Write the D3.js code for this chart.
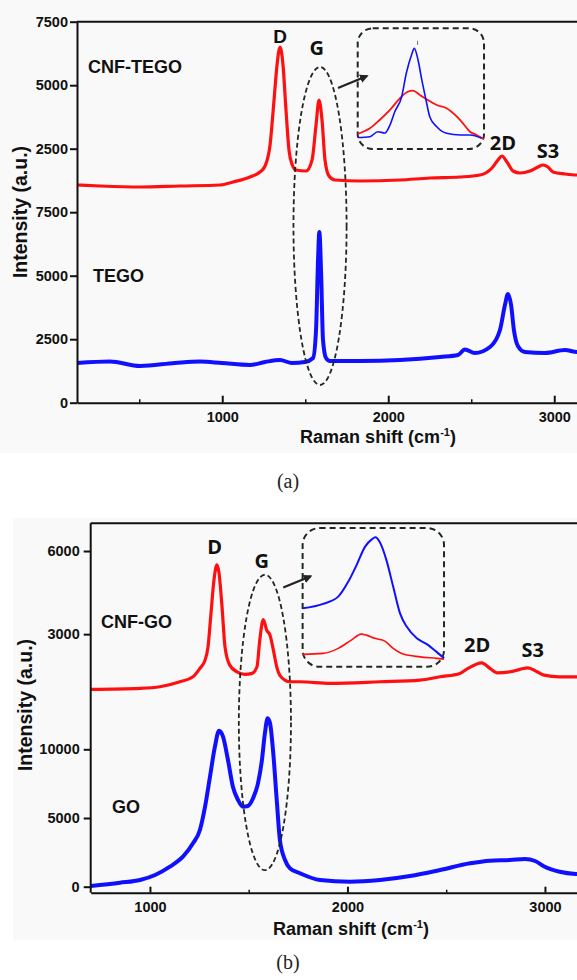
<!DOCTYPE html>
<html><head><meta charset="utf-8">
<script src="https://cdn.jsdelivr.net/npm/d3@7"></script>
<style>body{margin:0;background:#fff;} svg{display:block;}</style>
</head><body>
<svg id="c" width="577" height="980"></svg>
<script>
// ---------------- DATA ----------------
// Panel (a)
const tegoShift = [125,324,505,715,866,998,1167,1258,1348,1420,1498,1547,1565,1577,1585,1595,1607,1625,1649,1830,2071,2312,2420,2462,2522,2613,2673,2703,2721,2740,2757,2781,2823,2944,3065,3137,3200];
const tegoIntensity = [1563,1622,1445,1563,1622,1563,1484,1602,1681,1563,1602,1760,2862,5618,6720,5224,2469,1760,1642,1642,1681,1799,1878,2094,1957,2193,2862,3846,4280,3846,2862,2232,1996,1957,2075,1996,2000];
const cnfTegoShift = [125,264,505,745,986,1065,1167,1227,1258,1288,1312,1330,1348,1366,1384,1402,1420,1444,1505,1541,1565,1583,1601,1619,1643,1679,1830,2071,2252,2432,2553,2625,2661,2685,2715,2752,2793,2854,2902,2932,2962,2992,3065,3137,3200];
const cnfTegoIntensity = [1071,1031,992,1031,1071,1189,1386,1583,1819,2646,4417,5795,6504,5795,4024,2449,1898,1661,1622,2055,3433,4417,3630,2055,1425,1268,1228,1268,1346,1386,1465,1740,2055,2213,1976,1622,1543,1622,1780,1858,1780,1583,1504,1465,1465];
const cnfTegoOffset = 7500;
const yTicksA = [0,2500,5000,7500,10000,12500,15000];
const yTickLabelsA = ["0","2500","5000","7500","2500","5000","7500"];
const xMajorA = [1000,2000,3000];
const xMinorA = [500,1500,2500];
// inset (a): G band zoom (normalised)
const insetATegoShift = [1450,1476,1493,1508,1519,1529,1544,1554,1565,1571,1579,1587,1596,1604,1619,1640,1669,1690,1715];
const insetATegoValue = [0.026,0.035,0.087,0.074,0.158,0.295,0.456,0.705,0.895,0.965,0.842,0.632,0.421,0.245,0.14,0.071,0.053,0.053,0.018];
const insetACnfShift = [1450,1476,1497,1519,1540,1557,1568,1583,1600,1619,1640,1662,1675,1690,1704,1720];
const insetACnfValue = [0.063,0.123,0.211,0.316,0.439,0.508,0.519,0.474,0.421,0.368,0.334,0.245,0.176,0.087,0.053,0.007];

// Panel (b)
const goShift = [700,848,950,1026,1101,1167,1218,1253,1279,1304,1329,1350,1370,1395,1420,1446,1471,1496,1522,1547,1567,1582,1596,1608,1623,1642,1658,1684,1709,1760,1861,2013,2165,2317,2469,2621,2722,2823,2899,2950,2999,3075,3156,3200];
const goIntensity = [50,291,488,852,1456,2183,3159,4127,5822,8006,10189,11354,10917,9221,7278,6310,5822,5873,6434,7525,9221,11164,12256,11892,9949,6310,3399,1943,1339,975,488,364,488,779,1215,1703,1892,1943,2016,1870,1456,1092,924,900];
const cnfGoShift = [700,950,1051,1152,1218,1253,1279,1294,1309,1324,1339,1349,1365,1380,1404,1441,1481,1517,1542,1556,1574,1591,1608,1625,1642,1663,1709,1760,1912,2165,2367,2469,2570,2610,2680,2721,2757,2823,2873,2914,2960,2996,3072,3156,3200];
const cnfGoIntensity = [1008,1044,1102,1282,1462,1765,2063,2542,3745,4944,5500,5243,3983,2542,1883,1642,1548,1584,1822,2784,3529,3144,2964,2424,1822,1462,1282,1282,1224,1282,1343,1462,1584,1765,1966,1765,1606,1642,1728,1786,1642,1523,1462,1462,1462];
const yTicksBUpper = [3000,6000];
const yTicksBLower = [0,5000,10000];
const xMajorB = [1000,2000,3000];
const xMinorB = [1500,2500];
const insetBGoShift = [1450,1489,1518,1537,1553,1569,1582,1589,1597,1610,1623,1636,1649,1668,1687,1709,1720];
const insetBGoValue = [0.414,0.45,0.508,0.626,0.76,0.906,0.966,0.982,0.946,0.8,0.586,0.374,0.266,0.174,0.128,0.054,0.016];
const insetBCnfShift = [1450,1489,1518,1543,1562,1572,1588,1607,1623,1642,1674,1706,1720];
const insetBCnfValue = [0.046,0.054,0.094,0.16,0.208,0.2,0.174,0.152,0.094,0.048,0.026,0.014,0.008];

// annotation anchors (data coordinates)
const sampleLabelsA = [{t:"CNF-TEGO", x:191, y:12980},{t:"TEGO", x:221, y:4764}];
const peakLabelsA = [{t:"D", x:1348, y:14161, f:"Liberation Sans"},{t:"G", x:1569, y:13689},{t:"2D", x:2691, y:9949},{t:"S3", x:2962, y:9634}];
const sampleLabelsB = [{t:"CNF-GO", x:752, y:3205, s:"up"},{t:"GO", x:808, y:5386, s:"lo"}];
const peakLabelsB = [{t:"D", x:1327, y:5881},{t:"G", x:1566, y:5376},{t:"2D", x:2657, y:2362},{t:"S3", x:2938, y:2182}];

// ---------------- DRAW ----------------
const svg = d3.select('#c');
const RED = '#ff1010', BLUE = '#1010ff', DASH = '#1f2a1f';
const SANS = 'Liberation Sans, Arial, sans-serif';
svg.append('rect').attr('x',0).attr('y',0).attr('width',577).attr('height',453).attr('fill','#f9f9f9');
svg.append('rect').attr('x',13).attr('y',518).attr('width',564).attr('height',422).attr('fill','#f9f9f9');

const defs = svg.append('defs');
defs.append('marker').attr('id','ah').attr('viewBox','0 0 10 10').attr('refX',8).attr('refY',5)
  .attr('markerWidth',4).attr('markerHeight',4).attr('orient','auto')
  .append('path').attr('d','M0,0L10,5L0,10z').attr('fill','#222');

const tickFont = g => g.selectAll('text').attr('font-family',SANS).attr('font-weight','bold').attr('font-size',14.5).attr('fill','#111');

function drawLine(g, xs, ys, sx, sy, color, w){
  const pts = xs.map((v,i)=>[v, ys[i]]);
  g.append('path').datum(pts)
    .attr('d', d3.line().x(d=>sx(d[0])).y(d=>sy(d[1])).curve(d3.curveMonotoneX))
    .attr('fill','none').attr('stroke',color).attr('stroke-width',w).attr('stroke-linejoin','round');
}

// ===== Panel (a) =====
const xA = d3.scaleLinear().domain([125,3200]).range([77, 77+3075*0.166]);
const yA = d3.scaleLinear().domain([0,15000]).range([402.7, 21.7]);
const gA = svg.append('g');

drawLine(gA, cnfTegoShift, cnfTegoIntensity.map(v=>v+cnfTegoOffset), xA, yA, RED, 3.2);
drawLine(gA, tegoShift, tegoIntensity, xA, yA, BLUE, 4);

// axes
gA.append('g').attr('transform','translate(77,0)')
  .call(d3.axisLeft(yA).tickValues(yTicksA).tickFormat((d,i)=>yTickLabelsA[i]).tickSizeInner(7).tickSizeOuter(0).tickPadding(2))
  .call(g=>g.selectAll('line,path').attr('stroke','#111').attr('stroke-width',2)).call(tickFont);
gA.append('g').attr('transform',`translate(0,${yA(0)})`)
  .call(d3.axisBottom(xA).tickValues(xMajorA).tickFormat(d3.format('d')).tickSizeInner(-7).tickSizeOuter(0).tickPadding(9))
  .call(g=>g.selectAll('line,path').attr('stroke','#111').attr('stroke-width',2)).call(tickFont);
gA.append('g').attr('transform',`translate(0,${yA(0)})`)
  .call(d3.axisBottom(xA).tickValues(xMinorA).tickFormat('').tickSizeInner(-3.5).tickSizeOuter(0))
  .call(g=>g.select('.domain').remove()).call(g=>g.selectAll('line').attr('stroke','#111').attr('stroke-width',1.5));
gA.append('line').attr('x1',xA(125)).attr('x2',577).attr('y1',yA(15000)).attr('y2',yA(15000)).attr('stroke','#111').attr('stroke-width',2);

// labels
gA.selectAll('.sl').data(sampleLabelsA).join('text').attr('x',d=>xA(d.x)).attr('y',d=>yA(d.y)).text(d=>d.t)
  .attr('font-family',SANS).attr('font-weight','bold').attr('font-size',18).attr('fill','#111');
gA.selectAll('.pl').data(peakLabelsA).join('text').attr('x',d=>xA(d.x)).attr('y',d=>yA(d.y)).text(d=>d.t)
  .attr('text-anchor','middle').attr('font-family',d=>d.f||'Open Sans, sans-serif').attr('font-weight','bold').attr('font-size',d=>d.f?19:20).attr('fill','#111');

// ellipse + arrow + inset
gA.append('ellipse').attr('cx',xA(1589)).attr('cy',yA(6957)).attr('rx',xA(1589+160)-xA(1589)).attr('ry',yA(0)-yA(6260))
  .attr('fill','none').attr('stroke',DASH).attr('stroke-width',1.8).attr('stroke-dasharray','5,3');
gA.append('line').attr('x1',xA(1697)).attr('y1',yA(12390)).attr('x2',xA(1872)).attr('y2',yA(12862))
  .attr('stroke','#222').attr('stroke-width',2.2).attr('marker-end','url(#ah)');
const boxA = {x0:xA(1816), x1:xA(2577), y0:yA(14740), y1:yA(9988)};
gA.append('rect').attr('x',boxA.x0).attr('y',boxA.y0).attr('width',boxA.x1-boxA.x0).attr('height',boxA.y1-boxA.y0)
  .attr('rx',15).attr('fill','none').attr('stroke',DASH).attr('stroke-width',2).attr('stroke-dasharray','6,4');
const ixA = d3.scaleLinear().domain([1450,1720]).range([boxA.x0, boxA.x1]);
const iyA = d3.scaleLinear().domain([0,1]).range([boxA.y1-9, boxA.y1-104]);
drawLine(gA, insetACnfShift, insetACnfValue, ixA, iyA, RED, 1.8);
drawLine(gA, insetATegoShift, insetATegoValue, ixA, iyA, BLUE, 1.6);
gA.append('line').attr('x1',ixA(1578)).attr('x2',ixA(1578)).attr('y1',iyA(1.045)).attr('y2',iyA(1.0)).attr('stroke','#777').attr('stroke-width',1);

// axis titles
svg.append('text').attr('transform','translate(27,212) rotate(-90)').attr('text-anchor','middle')
  .attr('font-family',SANS).attr('font-weight','bold').attr('font-size',19.5).attr('fill','#111').text('Intensity (a.u.)');
function ramanTitle(x,y){
  const t = svg.append('text').attr('x',x).attr('y',y).attr('text-anchor','middle')
    .attr('font-family',SANS).attr('font-weight','bold').attr('font-size',18).attr('fill','#111');
  t.append('tspan').text('Raman shift (cm');
  t.append('tspan').attr('dy',-7).attr('font-size',11).text('-1');
  t.append('tspan').attr('dy',7).text(')');
}
ramanTitle(378, 443);
svg.append('text').attr('x',288).attr('y',488).attr('text-anchor','middle').attr('font-family','Liberation Serif, serif').attr('font-size',20).attr('fill','#222').text('(a)');

// ===== Panel (b) =====
const xB = d3.scaleLinear().domain([700,3200]).range([90.7, 90.7+2500*0.1975]);
const yBu = d3.scaleLinear().domain([0,7000]).range([717.3, 523.3]);
const yBl = d3.scaleLinear().domain([0,10000]).range([886.7, 749.3]);
const gB = svg.append('g');
const axisY = yBl(-437);

drawLine(gB, cnfGoShift, cnfGoIntensity, xB, yBu, RED, 3.2);
drawLine(gB, goShift, goIntensity, xB, yBl, BLUE, 4);

gB.append('line').attr('x1',90.7).attr('x2',90.7).attr('y1',yBu(7000)).attr('y2',axisY).attr('stroke','#111').attr('stroke-width',2);
gB.append('line').attr('x1',90.7).attr('x2',577).attr('y1',yBu(7000)).attr('y2',yBu(7000)).attr('stroke','#111').attr('stroke-width',2);
gB.append('g').attr('transform','translate(90.7,0)')
  .call(d3.axisLeft(yBu).tickValues(yTicksBUpper).tickFormat(d3.format('d')).tickSizeInner(7).tickSizeOuter(0).tickPadding(4))
  .call(g=>g.select('.domain').remove()).call(g=>g.selectAll('line').attr('stroke','#111').attr('stroke-width',2)).call(tickFont);
gB.append('g').attr('transform','translate(90.7,0)')
  .call(d3.axisLeft(yBl).tickValues(yTicksBLower).tickFormat(d3.format('d')).tickSizeInner(7).tickSizeOuter(0).tickPadding(4))
  .call(g=>g.select('.domain').remove()).call(g=>g.selectAll('line').attr('stroke','#111').attr('stroke-width',2)).call(tickFont);
gB.append('g').attr('transform',`translate(0,${axisY})`)
  .call(d3.axisBottom(xB).tickValues(xMajorB).tickFormat(d3.format('d')).tickSizeInner(-6).tickSizeOuter(0).tickPadding(9))
  .call(g=>g.selectAll('line,path').attr('stroke','#111').attr('stroke-width',2)).call(tickFont);
gB.append('g').attr('transform',`translate(0,${axisY})`)
  .call(d3.axisBottom(xB).tickValues(xMinorB).tickFormat('').tickSizeInner(-3).tickSizeOuter(0))
  .call(g=>g.select('.domain').remove()).call(g=>g.selectAll('line').attr('stroke','#111').attr('stroke-width',1.5));

gB.selectAll('.sl').data(sampleLabelsB).join('text').attr('x',d=>xB(d.x)).attr('y',d=>(d.s==='up'?yBu:yBl)(d.y)).text(d=>d.t)
  .attr('font-family',SANS).attr('font-weight','bold').attr('font-size',18).attr('fill','#111');
gB.selectAll('.pl').data(peakLabelsB).join('text').attr('x',d=>xB(d.x)).attr('y',d=>yBu(d.y)).text(d=>d.t)
  .attr('text-anchor','middle').attr('font-family','Open Sans, sans-serif').attr('font-weight','bold').attr('font-size',20).attr('fill','#111');

gB.append('ellipse').attr('cx',xB(1582)).attr('cy',yBu(-187)).attr('rx',xB(1582+132)-xB(1582)).attr('ry',yBu(0)-yBu(5330))
  .attr('fill','none').attr('stroke',DASH).attr('stroke-width',1.8).attr('stroke-dasharray','5,3');
gB.append('line').attr('x1',xB(1675)).attr('y1',yBu(4681)).attr('x2',xB(1814)).attr('y2',yBu(5088))
  .attr('stroke','#222').attr('stroke-width',2.2).attr('marker-end','url(#ah)');
const boxB = {x0:xB(1773), x1:xB(2489), y0:yBu(6828), y1:yBu(1822)};
gB.append('rect').attr('x',boxB.x0).attr('y',boxB.y0).attr('width',boxB.x1-boxB.x0).attr('height',boxB.y1-boxB.y0)
  .attr('rx',17).attr('fill','none').attr('stroke',DASH).attr('stroke-width',2).attr('stroke-dasharray','6,4');
const ixB = d3.scaleLinear().domain([1450,1720]).range([boxB.x0, boxB.x1]);
const iyB = d3.scaleLinear().domain([0,1]).range([boxB.y1-6.7, boxB.y1-131.7]);
drawLine(gB, insetBCnfShift, insetBCnfValue, ixB, iyB, RED, 1.6);
drawLine(gB, insetBGoShift, insetBGoValue, ixB, iyB, BLUE, 2);

svg.append('text').attr('transform','translate(32,705) rotate(-90)').attr('text-anchor','middle')
  .attr('font-family',SANS).attr('font-weight','bold').attr('font-size',19.5).attr('fill','#111').text('Intensity (a.u.)');
ramanTitle(351, 935);
svg.append('text').attr('x',288).attr('y',969).attr('text-anchor','middle').attr('font-family','Liberation Serif, serif').attr('font-size',20).attr('fill','#222').text('(b)');
</script>
</body></html>
